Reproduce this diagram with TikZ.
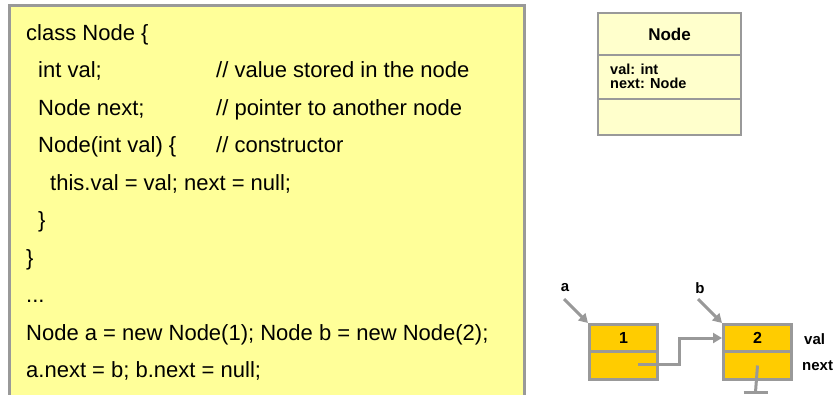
\documentclass[tikz,border=0pt]{standalone}
\usepackage{fontspec}
\setmainfont{Liberation Sans}
\usetikzlibrary{arrows.meta}

\definecolor{panelfill}{HTML}{FFFF99}
\definecolor{umlfill}{HTML}{FFFFCC}
\definecolor{cellfill}{HTML}{FFCC00}
\definecolor{edgegray}{HTML}{999999}

\tikzset{
  code/.style={anchor=base west, inner sep=0pt, font=\fontsize{22}{22}\selectfont},
  umlbox/.style={draw=edgegray, line width=2.5pt, fill=umlfill},
  umltitle/.style={inner sep=0pt, font=\bfseries\fontsize{17}{17}\selectfont},
  umlattr/.style={anchor=base west, inner sep=0pt, font=\bfseries\fontsize{14.5}{14.5}\selectfont},
  cell/.style={draw=edgegray, line width=3pt, fill=cellfill, minimum width=68pt,
    inner sep=0pt, font=\bfseries\fontsize{16}{16}\selectfont},
  lbl/.style={inner sep=0pt, font=\bfseries\fontsize{15}{15}\selectfont},
  ptr/.style={draw=edgegray, line width=3pt, -{Triangle[length=9pt,width=10pt]}},
  wire/.style={draw=edgegray, line width=3pt},
}

\begin{document}
\begin{tikzpicture}[x=1pt, y=-1pt]
\path[use as bounding box] (0,0) rectangle (835,394);

% code panel (runs off the bottom edge)
\begin{scope}
\clip (0,0) rectangle (835,394);
\fill[panelfill] (9.5,5.5) rectangle (524,400);
\draw[edgegray, line width=3pt] (9.5,400) -- (9.5,5.5) -- (524,5.5) -- (524,400);
\end{scope}

% source lines
\node[code] (l1)  at (26,40)    {class Node \{};
\node[code] (l2)  at (38,77.5)  {int val;};
\node[code] (c2)  at (216,77.5) {// value stored in the node};
\node[code] (l3)  at (38,115)   {Node next;};
\node[code] (c3)  at (216,115)  {// pointer to another node};
\node[code] (l4)  at (38,152.5) {Node(int val) \{};
\node[code] (c4)  at (216,152.5){// constructor};
\node[code] (l5)  at (50,190)   {this.val = val; next = null;};
\node[code] (l6)  at (38,227.5) {\}};
\node[code] (l7)  at (26,265)   {\}};
\node[code] (l8)  at (26,302.5) {...};
\node[code] (l9)  at (26,340)   {Node a = new Node(1); Node b = new Node(2);};
\node[code] (l10) at (26,377.5) {a.next = b; b.next = null;};

% UML class box
\draw[umlbox] (598,13) rectangle (741,55);
\draw[umlbox] (598,55) rectangle (741,99);
\draw[umlbox] (598,99) rectangle (741,135);
\node[umltitle] (utitle) at (669.5,34) {Node};
\node[umlattr] (uval)  at (610,74.5) {val: int};
\node[umlattr] (unext) at (610,88)   {next: Node};

% linked list cells
\node[cell, minimum height=27pt, anchor=north west] (aval)  at (588,323) {1};
\node[cell, minimum height=28pt, anchor=north west] (anext) at (588,350) {};
\node[cell, minimum height=27pt, anchor=north west] (bval)  at (722,323) {2};
\node[cell, minimum height=28pt, anchor=north west] (bnext) at (722,350) {};

% variable names and field labels
\node[lbl] (va) at (565,288) {a};
\node[lbl] (vb) at (700,288) {b};
\node[lbl, anchor=west] (fval)  at (804,339) {val};
\node[lbl, anchor=west] (fnext) at (802,366) {next};

% pointers
\coordinate (pa) at (564,299);
\coordinate (pb) at (698,299);
\draw[ptr] (pa) -- (aval.north west);
\draw[ptr] (pb) -- (bval.north west);

\coordinate (astart) at (638,364);
\coordinate (abend) at (679,364);
\draw[ptr] (astart) -- (abend) |- (bval.west);

% null reference
\coordinate (bnull) at (755.5,392);
\draw[wire] (bnext.center) -- (bnull);
\draw[wire] ([xshift=-12pt]bnull) -- ([xshift=12pt]bnull);
\end{tikzpicture}
\end{document}
